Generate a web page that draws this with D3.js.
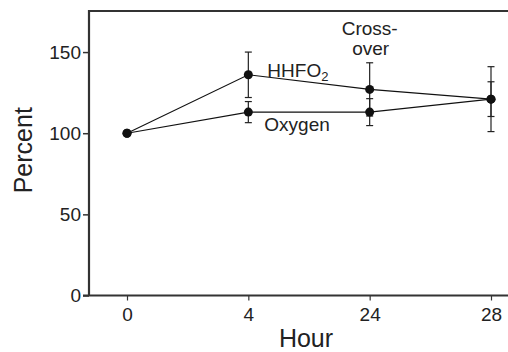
<!DOCTYPE html>
<html>
<head>
<meta charset="utf-8">
<script src="https://cdn.jsdelivr.net/npm/d3@7"></script>
<style>
  body { margin: 0; background: #fff; }
  svg { display: block; font-family: "Liberation Sans", Arial, sans-serif; }
</style>
</head>
<body>
<svg id="chart" width="508" height="352"></svg>
<script>
// chart data
const hours = ["0", "4", "24", "28"];
const hhfo2 = [100, 136, 127, 121];
const hhfo2Err = [0, 14, 16.4, 20];
const oxygen = [100, 113, 113, 121];
const oxygenErr = [0, 6.5, 8.3, 10.7];
const yTicks = [0, 50, 100, 150];

const svg = d3.select("#chart");
const axisColor = "#333";
const ink = "#111";

const plotLeft = 89, plotTop = 11, plotBottom = 295.5;

const x = d3.scalePoint().domain(hours).range([127, 491]);
const y = d3.scaleLinear().domain([0, 175]).range([plotBottom, plotTop + 0.5]);

// y axis ticks
const yAxis = svg.append("g")
    .attr("transform", `translate(${plotLeft},0)`)
    .call(d3.axisLeft(y).tickValues(yTicks).tickSize(6).tickPadding(2).tickSizeOuter(0));
yAxis.select(".domain").remove();
yAxis.selectAll("line").attr("stroke", axisColor).attr("stroke-width", 1.5);
yAxis.selectAll("text").attr("fill", "#222").style("font-size", "19px");

// x axis ticks
const xAxis = svg.append("g")
    .attr("transform", `translate(0,${plotBottom})`)
    .call(d3.axisBottom(x).tickSize(5).tickPadding(7).tickSizeOuter(0));
xAxis.select(".domain").remove();
xAxis.selectAll("line").attr("stroke", axisColor).attr("stroke-width", 1.2);
xAxis.selectAll("text").attr("fill", "#222").style("font-size", "19px");

// frame (left, top, bottom; right side runs off the picture)
svg.append("path")
    .attr("d", `M${plotLeft - 6},${plotBottom}H510M${plotLeft},${plotBottom}V${plotTop}H510`)
    .attr("fill", "none")
    .attr("stroke", axisColor)
    .attr("stroke-width", 2.2);

// axis titles
svg.append("text")
    .attr("transform", `translate(32,${(plotTop + plotBottom) / 2 - 3}) rotate(-90)`)
    .attr("text-anchor", "middle")
    .attr("fill", "#222")
    .style("font-size", "25px")
    .text("Percent");

svg.append("text")
    .attr("x", 306)
    .attr("y", 347)
    .attr("text-anchor", "middle")
    .attr("fill", "#222")
    .style("font-size", "25px")
    .text("Hour");

const series = [
    { name: "HHFO2", values: hhfo2, err: hhfo2Err },
    { name: "Oxygen", values: oxygen, err: oxygenErr }
];

const line = d3.line().x((d, i) => x(hours[i])).y(d => y(d));

// error bars
series.forEach(s => {
    const g = svg.append("g").attr("stroke", "#222").attr("stroke-width", 1.2);
    s.values.forEach((v, i) => {
        if (!s.err[i]) return;
        const cx = x(hours[i]);
        g.append("line")
            .attr("x1", cx).attr("x2", cx)
            .attr("y1", y(v - s.err[i])).attr("y2", y(v + s.err[i]));
        [v - s.err[i], v + s.err[i]].forEach(e => {
            g.append("line")
                .attr("x1", cx - 3.5).attr("x2", cx + 3.5)
                .attr("y1", y(e)).attr("y2", y(e));
        });
    });
});

// lines and markers
series.forEach(s => {
    svg.append("path")
        .datum(s.values)
        .attr("d", line)
        .attr("fill", "none")
        .attr("stroke", ink)
        .attr("stroke-width", 1.1);
    svg.selectAll(null)
        .data(s.values)
        .enter().append("circle")
        .attr("cx", (d, i) => x(hours[i]))
        .attr("cy", d => y(d))
        .attr("r", 4.5)
        .attr("fill", ink);
});

// annotations
const lab = svg.append("text")
    .attr("x", x("4") + 19)
    .attr("y", 77)
    .attr("fill", "#222")
    .style("font-size", "19px");
lab.append("tspan").text("HHFO");
lab.append("tspan").attr("dy", 4).style("font-size", "13px").text("2");

svg.append("text")
    .attr("x", x("4") + 16)
    .attr("y", 131)
    .attr("fill", "#222")
    .style("font-size", "19px")
    .text("Oxygen");

const cross = svg.append("text")
    .attr("text-anchor", "middle")
    .attr("fill", "#222")
    .style("font-size", "19px");
cross.append("tspan").attr("x", x("24")).attr("y", 35).text("Cross-");
cross.append("tspan").attr("x", x("24") + 1).attr("y", 55).text("over");
</script>
</body>
</html>
